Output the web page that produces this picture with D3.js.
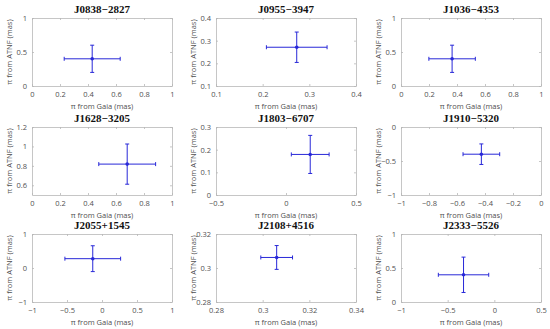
<!DOCTYPE html>
<meta charset="utf-8">
<title>Parallax comparison</title>
<style>
    body { margin: 0; background: #fff; }
    svg text { font-family: "Open Sans", "DejaVu Sans", sans-serif; }
    .title { font-family: "Liberation Serif", "DejaVu Serif", serif; font-weight: bold; }
</style>
<body>
<script src="https://d3js.org/d3.v7.min.js"></script>
<script>
    /* pulsar names */
    var names = ["J0838\u22122827", "J0955\u22123947", "J1036\u22124353",
                 "J1628\u22123205", "J1803\u22126707", "J1910\u22125320",
                 "J2055+1545", "J2108+4516", "J2333\u22125526"];

    /* parallax from Gaia (x) and from ATNF (y), with errors, in mas */
    var gaia    = [0.43, 0.273, 0.365, 0.68, 0.173, -0.426, -0.132, 0.306, -0.33];
    var gaiaErr = [0.20, 0.065, 0.166, 0.203, 0.135, 0.131, 0.398, 0.0068, 0.27];
    var atnf    = [0.40, 0.271, 0.40, 0.818, 0.179, -0.40, 0.274, 0.3062, 0.40];
    var atnfErr = [0.20, 0.067, 0.20, 0.207, 0.084, 0.151, 0.38, 0.007, 0.26];

    /* axis limits and tick values per panel */
    var xDomains = [[0, 1], [0.1, 0.4], [0, 1], [0, 1], [-0.5, 0.5], [-1, 0], [-1, 1], [0.28, 0.34], [-1, 0.5]];
    var yDomains = [[0, 1], [0.1, 0.4], [0, 1], [0.5, 1.2], [0, 0.3], [-1, 0], [-1, 1], [0.28, 0.32], [0, 1]];
    var xTicks = [[0, 0.2, 0.4, 0.6, 0.8, 1], [0.1, 0.2, 0.3, 0.4], [0, 0.2, 0.4, 0.6, 0.8, 1],
                  [0, 0.2, 0.4, 0.6, 0.8, 1], [-0.5, 0, 0.5], [-1, -0.8, -0.6, -0.4, -0.2, 0],
                  [-1, -0.5, 0, 0.5, 1], [0.28, 0.3, 0.32, 0.34], [-1, -0.5, 0, 0.5]];
    var yTicks = [[0, 0.5, 1], [0.1, 0.2, 0.3, 0.4], [0, 0.5, 1], [0.6, 0.8, 1, 1.2],
                  [0, 0.1, 0.2, 0.3], [-1, -0.5, 0], [-1, 0, 1], [0.28, 0.3, 0.32], [0, 0.5, 1]];

    /* Layout constants */
    var width = 550, height = 329;
    var lefts = [32, 216, 401], tops = [18, 127, 234];
    var pw = 140, ph = 68;
    var boxColor = "#b8b8b8", textColor = "#505050", blue = "#2828d8";

    var svg = d3.select("body").append("svg")
        .attr("width", width)
        .attr("height", height);

    var fmt = function (v) { return String(+v.toFixed(3)).replace("-", "\u2212"); };

    names.forEach(function (name, i) {
        var g = svg.append("g")
            .attr("transform", "translate(" + lefts[i % 3] + "," + tops[Math.floor(i / 3)] + ")");

        var x = d3.scaleLinear().domain(xDomains[i]).range([0, pw]);
        var y = d3.scaleLinear().domain(yDomains[i]).range([ph, 0]);

        // axes, ticks pointing inward like matlab
        var axes = [
            [d3.axisBottom(x).tickValues(xTicks[i]).tickFormat(fmt), 0, ph, 6],
            [d3.axisTop(x).tickValues(xTicks[i]).tickFormat(""), 0, 0, 5],
            [d3.axisLeft(y).tickValues(yTicks[i]).tickFormat(fmt), 0, 0, 5],
            [d3.axisRight(y).tickValues(yTicks[i]).tickFormat(""), pw, 0, 5]
        ];
        axes.forEach(function (a) {
            var ax = g.append("g")
                .attr("transform", "translate(" + a[1] + "," + a[2] + ")")
                .call(a[0].tickSizeInner(-2).tickSizeOuter(0).tickPadding(a[3]));
            ax.select(".domain").attr("stroke", boxColor).attr("stroke-width", 0.8);
            ax.selectAll(".tick line").attr("stroke", boxColor).attr("stroke-width", 0.8);
            ax.selectAll("text").attr("fill", textColor).style("font-size", "7.5px");
        });

        g.append("text")
            .attr("class", "title")
            .attr("x", pw / 2)
            .attr("y", -5)
            .attr("text-anchor", "middle")
            .style("font-size", "11px")
            .attr("fill", "#111")
            .text(name);

        g.append("text")
            .attr("x", pw / 2)
            .attr("y", ph + 23)
            .attr("text-anchor", "middle")
            .style("font-size", "7.5px")
            .attr("fill", textColor)
            .text("\u03c0 from Gaia (mas)");

        g.append("text")
            .attr("transform", "translate(-20," + (ph / 2) + ") rotate(-90)")
            .attr("text-anchor", "middle")
            .style("font-size", "7.5px")
            .attr("fill", textColor)
            .text("\u03c0 from ATNF (mas)");

        // error bars
        var cx = x(gaia[i]), cy = y(atnf[i]);
        var x0 = x(gaia[i] - gaiaErr[i]), x1 = x(gaia[i] + gaiaErr[i]);
        var y0 = y(atnf[i] - atnfErr[i]), y1 = y(atnf[i] + atnfErr[i]);
        var cap = 2;
        var segs = [
            [x0, cy, x1, cy], [x0, cy - cap, x0, cy + cap], [x1, cy - cap, x1, cy + cap],
            [cx, y0, cx, y1], [cx - cap, y0, cx + cap, y0], [cx - cap, y1, cx + cap, y1]
        ];
        g.selectAll("line.err")
            .data(segs)
            .enter()
            .append("line")
            .attr("class", "err")
            .attr("x1", function (d) { return d[0]; })
            .attr("y1", function (d) { return d[1]; })
            .attr("x2", function (d) { return d[2]; })
            .attr("y2", function (d) { return d[3]; })
            .attr("stroke", blue)
            .attr("stroke-width", 1);

        g.append("circle")
            .attr("cx", cx)
            .attr("cy", cy)
            .attr("r", 1.8)
            .attr("fill", blue);
    });
</script>
</body>
